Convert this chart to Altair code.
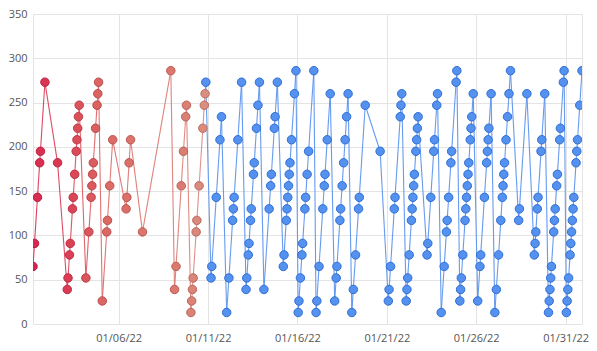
import altair as alt
import pandas as pd

# Hours (of day) at which an observation exists, one list per day of January 2022
obs_hours = [
    [5, 7, 11, 14, 15, 21],                                   # 01/01
    [14],                                                     # 01/02
    [3, 4, 6, 7, 10, 11, 13, 15, 16, 17, 18, 19],             # 01/03
    [4, 8, 11, 12, 13, 14, 17, 19, 20, 21],                   # 01/04
    [2, 8, 9, 12, 16],                                        # 01/05
    [10, 11, 14, 16],                                         # 01/06
    [8],                                                      # 01/07
    [22],                                                     # 01/08
    [3, 5, 12, 15, 18, 19],                                   # 01/09
    [1, 2, 3, 4, 8, 9, 12, 17, 19, 20, 21],                   # 01/10
    [4, 5, 11, 16, 18],                                       # 01/11
    [1, 4, 9, 10, 11, 16, 21],                                # 01/12
    [3, 4, 6, 7, 9, 10, 13, 14, 17, 19, 21],                  # 01/13
    [3, 10, 12, 13, 17, 18, 21],                              # 01/14
    [5, 6, 9, 10, 11, 12, 13, 14, 16, 20, 22],                # 01/15
    [1, 2, 4, 6, 7, 10, 11, 13, 15, 22],                      # 01/16
    [1, 2, 5, 10, 12, 13, 16, 20],                            # 01/17
    [2, 4, 5, 9, 10, 12, 14, 16, 18, 20],                     # 01/18
    [1, 3, 6, 10, 11, 19],                                    # 01/19
    [15],                                                     # 01/20
    [2, 3, 5, 10, 11, 18, 19, 20],                            # 01/21
    [2, 3, 4, 6, 9, 10, 11, 12, 13, 15, 16, 17, 18],          # 01/22
    [6, 7, 11, 15, 16, 19, 20],                               # 01/23
    [1, 5, 8, 9, 11, 14, 15, 21, 22],                         # 01/24
    [2, 3, 4, 6, 9, 10, 11, 12, 13, 14, 16, 17, 18, 20],      # 01/25
    [2, 5, 6, 11, 14, 15, 16, 17, 20],                        # 01/26
    [1, 3, 6, 9, 11, 12, 13, 14, 16, 18, 20, 22],             # 01/27
    [9, 10, 20],                                              # 01/28
    [6, 7, 8, 10, 11, 15, 16, 20],                            # 01/29
    [1, 2, 3, 4, 5, 8, 9, 10, 12, 13, 16, 17, 21, 22],        # 01/30
    [1, 2, 3, 4, 6, 7, 8, 9, 10, 11, 14, 15, 16, 19, 22],     # 01/31
]

# Observed values, same layout as obs_hours
obs_values = [
    [65, 91, 143, 182, 195, 273],
    [182],
    [39, 52, 78, 91, 130, 143, 169, 195, 208, 221, 234, 247],
    [52, 104, 143, 156, 169, 182, 221, 247, 260, 273],
    [26, 104, 117, 156, 208],
    [130, 143, 182, 208],
    [104],
    [286],
    [39, 65, 156, 195, 234, 247],
    [13, 26, 39, 52, 104, 117, 156, 221, 247, 260, 273],
    [52, 65, 143, 208, 234],
    [13, 52, 117, 130, 143, 208, 273],
    [39, 52, 78, 91, 117, 130, 169, 182, 221, 247, 273],
    [39, 130, 156, 169, 221, 234, 273],
    [65, 78, 117, 130, 143, 156, 169, 182, 208, 260, 286],
    [13, 26, 52, 78, 91, 130, 143, 169, 195, 286],
    [13, 26, 65, 130, 156, 169, 208, 260],
    [26, 52, 65, 117, 130, 156, 182, 208, 234, 260],
    [13, 39, 78, 130, 143, 247],
    [195],
    [26, 39, 65, 130, 143, 234, 247, 260],
    [26, 39, 52, 78, 117, 130, 143, 156, 169, 195, 208, 221, 234],
    [78, 91, 143, 195, 208, 247, 260],
    [13, 65, 104, 117, 143, 182, 195, 273, 286],
    [26, 39, 52, 78, 117, 130, 143, 156, 169, 182, 208, 221, 234, 260],
    [26, 65, 78, 143, 182, 195, 208, 221, 260],
    [13, 39, 78, 117, 143, 156, 169, 182, 208, 234, 260, 286],
    [117, 130, 260],
    [78, 91, 104, 130, 143, 195, 208, 260],
    [13, 26, 39, 52, 65, 104, 117, 130, 156, 169, 208, 221, 273, 286],
    [13, 26, 39, 52, 78, 91, 104, 117, 130, 143, 182, 195, 208, 247, 286],
]

# x-axis tick dates (day of month, January 2022)
tick_days = [6, 11, 16, 21, 26, 31]
y_ticks = [0, 50, 100, 150, 200, 250, 300, 350]

# number of leading points in the red gradient (rest are blue)
n_red = 56

rows = []
for d, (hrs, vals) in enumerate(zip(obs_hours, obs_values), start=1):
    for h, v in zip(hrs, vals):
        rows.append({"t": f"2022-01-{d:02d}T{h:02d}:00:00", "v": v})
df = pd.DataFrame(rows)
df["i"] = range(len(df))
n = len(df)

seg = df.iloc[:-1].copy().reset_index(drop=True)
seg["t2"] = df["t"].iloc[1:].values
seg["v2"] = df["v"].iloc[1:].values

cdom = [0, n_red - 1, n_red, n - 1]
fill_scale = alt.Scale(domain=cdom, range=["#da2350", "#d98f80", "#5592f0", "#5592f0"])
stroke_scale = alt.Scale(domain=cdom, range=["#b8173f", "#bb6e62", "#2f6ed4", "#2f6ed4"])
line_scale = alt.Scale(domain=cdom, range=["#d9284f", "#dc8e82", "#5790ee", "#5790ee"])

x_axis = alt.Axis(
    values=[alt.DateTime(year=2022, month=1, date=d) for d in tick_days],
    format="%m/%d/%y", labelFontSize=11, labelColor="#555555", labelFont="Open Sans",
    grid=True, gridColor="#e4e4e4", ticks=False, domain=False, labelPadding=8, title=None,
)
y_axis = alt.Axis(
    values=y_ticks, labelFontSize=11, labelColor="#555555", labelFont="Open Sans",
    grid=True, gridColor="#e4e4e4", ticks=False, domain=False, labelPadding=6, title=None,
)
xs = alt.Scale(nice=False)
ys = alt.Scale(domain=[0, 350], nice=False)

lines = alt.Chart(seg).mark_rule(strokeWidth=1.1, clip=True, opacity=0.9).encode(
    x=alt.X("t:T", scale=xs, axis=x_axis),
    x2="t2:T",
    y=alt.Y("v:Q", scale=ys, axis=y_axis),
    y2="v2:Q",
    color=alt.Color("i:Q", scale=line_scale, legend=None),
)

points = alt.Chart(df).mark_circle(size=72, strokeWidth=1, opacity=1, clip=True).encode(
    x=alt.X("t:T", scale=xs, axis=x_axis),
    y=alt.Y("v:Q", scale=ys, axis=y_axis),
    fill=alt.Fill("i:Q", scale=fill_scale, legend=None),
    stroke=alt.Stroke("i:Q", scale=stroke_scale, legend=None),
)

chart = alt.layer(lines, points).resolve_scale(color="independent").properties(
    width=549, height=310,
    autosize=alt.AutoSizeParams(type="none"),
    padding={"left": 33, "top": 14, "right": 15, "bottom": 27},
).configure_view(stroke="#e4e4e4")

chart.save("out.html", embed_options={"renderer": "svg", "actions": False})
